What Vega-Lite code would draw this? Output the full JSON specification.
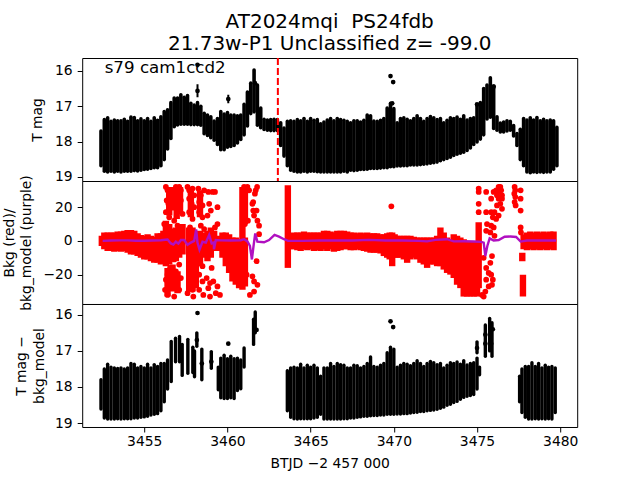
{"$schema":"https://vega.github.io/schema/vega-lite/v6.json","background":"white","padding":{"left":1.2,"top":11,"right":5,"bottom":5},"spacing":0,"bounds":"flush",
"title":{"text":["AT2024mqi\u00a0\u00a0PS24fdb","21.73w-P1 Unclassified z= -99.0"],"font":"DejaVu Sans","fontSize":20,"fontWeight":"normal","color":"black","anchor":"middle","frame":"group","offset":2,"lineHeight":23},
"datasets":{
"top":[{"x":3452.4,"a":17.7,"b":18.68},{"x":3452.6,"a":17.38,"b":18.84},{"x":3452.8,"a":17.33,"b":18.86},{"x":3453.0,"a":17.43,"b":18.84},{"x":3453.2,"a":17.39,"b":18.86},{"x":3453.4,"a":17.41,"b":18.84},{"x":3453.6,"a":17.41,"b":18.86},{"x":3453.8,"a":17.37,"b":18.84},{"x":3454.0,"a":17.43,"b":18.84},{"x":3454.2,"a":17.31,"b":18.84},{"x":3454.4,"a":17.32,"b":18.82},{"x":3454.6,"a":17.41,"b":18.83},{"x":3454.8,"a":17.36,"b":18.81},{"x":3455.0,"a":17.41,"b":18.79},{"x":3455.2,"a":17.35,"b":18.78},{"x":3455.4,"a":17.43,"b":18.76},{"x":3455.6,"a":17.33,"b":18.74},{"x":3455.8,"a":17.4,"b":18.74},{"x":3456.0,"a":17.3,"b":18.68},{"x":3456.2,"a":17.15,"b":18.51},{"x":3456.4,"a":17.1,"b":18.21},{"x":3456.6,"a":16.9,"b":17.91},{"x":3456.8,"a":16.77,"b":17.58},{"x":3457.0,"a":16.77,"b":17.53},{"x":3457.2,"a":16.68,"b":17.51},{"x":3457.4,"a":16.75,"b":17.51},{"x":3457.6,"a":16.7,"b":17.51},{"x":3457.8,"a":16.92,"b":17.52},{"x":3458.0,"a":16.97,"b":17.52},{"x":3458.2,"a":16.9,"b":17.52},{"x":3458.4,"a":17.0,"b":17.54},{"x":3458.6,"a":17.2,"b":17.78},{"x":3458.8,"a":17.25,"b":17.83},{"x":3459.0,"a":17.3,"b":17.89},{"x":3459.2,"a":17.42,"b":17.96},{"x":3459.4,"a":17.35,"b":18.08},{"x":3459.6,"a":17.15,"b":18.23},{"x":3459.8,"a":17.22,"b":18.23},{"x":3460.0,"a":17.18,"b":18.16},{"x":3460.2,"a":17.25,"b":18.14},{"x":3460.4,"a":17.25,"b":18.11},{"x":3460.6,"a":17.27,"b":18.04},{"x":3460.8,"a":17.25,"b":17.94},{"x":3461.0,"a":16.95,"b":17.81},{"x":3461.2,"a":16.6,"b":17.56},{"x":3461.4,"a":16.35,"b":17.21},{"x":3461.6,"a":15.98,"b":17.16},{"x":3461.8,"a":16.4,"b":17.54},{"x":3462.0,"a":17.05,"b":17.61},{"x":3462.2,"a":17.37,"b":17.66},{"x":3462.4,"a":17.39,"b":17.68},{"x":3462.6,"a":17.38,"b":17.69},{"x":3462.8,"a":17.37,"b":17.69},{"x":3463.0,"a":17.38,"b":17.69},{"x":3463.2,"a":17.47,"b":18.11},{"x":3463.4,"a":17.62,"b":18.41},{"x":3463.6,"a":17.43,"b":18.68},{"x":3463.8,"a":17.41,"b":18.81},{"x":3464.0,"a":17.43,"b":18.84},{"x":3464.2,"a":17.38,"b":18.86},{"x":3464.4,"a":17.41,"b":18.86},{"x":3464.6,"a":17.35,"b":18.84},{"x":3464.8,"a":17.43,"b":18.86},{"x":3465.0,"a":17.35,"b":18.84},{"x":3465.2,"a":17.4,"b":18.84},{"x":3465.4,"a":17.38,"b":18.85},{"x":3465.6,"a":17.5,"b":18.86},{"x":3465.8,"a":17.45,"b":18.86},{"x":3466.0,"a":17.39,"b":18.86},{"x":3466.2,"a":17.35,"b":18.86},{"x":3466.4,"a":17.41,"b":18.86},{"x":3466.6,"a":17.35,"b":18.86},{"x":3466.8,"a":17.38,"b":18.86},{"x":3467.0,"a":17.4,"b":18.84},{"x":3467.2,"a":17.43,"b":18.86},{"x":3467.4,"a":17.47,"b":18.81},{"x":3467.6,"a":17.41,"b":18.82},{"x":3467.8,"a":17.41,"b":18.81},{"x":3468.0,"a":17.45,"b":18.79},{"x":3468.2,"a":17.4,"b":18.79},{"x":3468.4,"a":17.25,"b":18.78},{"x":3468.6,"a":17.27,"b":18.76},{"x":3468.8,"a":17.42,"b":18.76},{"x":3469.0,"a":17.43,"b":18.76},{"x":3469.2,"a":17.4,"b":18.75},{"x":3469.4,"a":17.35,"b":18.74},{"x":3469.6,"a":17.05,"b":18.74},{"x":3469.8,"a":16.92,"b":18.71},{"x":3470.0,"a":17.07,"b":18.71},{"x":3470.2,"a":17.47,"b":18.69},{"x":3470.4,"a":17.35,"b":18.69},{"x":3470.6,"a":17.33,"b":18.68},{"x":3470.8,"a":17.37,"b":18.68},{"x":3471.0,"a":17.41,"b":18.66},{"x":3471.2,"a":17.35,"b":18.66},{"x":3471.4,"a":17.27,"b":18.66},{"x":3471.6,"a":17.35,"b":18.65},{"x":3471.8,"a":17.43,"b":18.64},{"x":3472.0,"a":17.35,"b":18.63},{"x":3472.2,"a":17.29,"b":18.61},{"x":3472.4,"a":17.33,"b":18.6},{"x":3472.6,"a":17.38,"b":18.58},{"x":3472.8,"a":17.35,"b":18.54},{"x":3473.0,"a":17.47,"b":18.51},{"x":3473.2,"a":17.4,"b":18.48},{"x":3473.4,"a":17.33,"b":18.44},{"x":3473.6,"a":17.35,"b":18.39},{"x":3473.8,"a":17.31,"b":18.36},{"x":3474.0,"a":17.37,"b":18.33},{"x":3474.2,"a":17.27,"b":18.3},{"x":3474.4,"a":17.39,"b":18.25},{"x":3474.6,"a":17.35,"b":18.18},{"x":3474.8,"a":17.33,"b":18.08},{"x":3475.0,"a":16.97,"b":18.01},{"x":3475.2,"a":16.9,"b":17.93},{"x":3475.4,"a":16.5,"b":17.81},{"x":3475.6,"a":16.4,"b":17.36},{"x":3475.8,"a":16.2,"b":17.31},{"x":3476.0,"a":16.43,"b":17.63},{"x":3476.2,"a":17.3,"b":17.68},{"x":3476.4,"a":17.48,"b":17.73},{"x":3476.6,"a":17.45,"b":17.73},{"x":3476.8,"a":17.41,"b":17.7},{"x":3477.0,"a":17.43,"b":17.68},{"x":3477.2,"a":17.55,"b":17.84},{"x":3477.4,"a":17.77,"b":18.11},{"x":3477.6,"a":17.65,"b":18.51},{"x":3477.8,"a":17.35,"b":18.68},{"x":3478.0,"a":17.39,"b":18.86},{"x":3478.2,"a":17.33,"b":18.88},{"x":3478.4,"a":17.39,"b":18.86},{"x":3478.6,"a":17.32,"b":18.87},{"x":3478.8,"a":17.41,"b":18.86},{"x":3479.0,"a":17.37,"b":18.87},{"x":3479.2,"a":17.41,"b":18.86},{"x":3479.4,"a":17.39,"b":18.86},{"x":3479.6,"a":17.41,"b":18.78},{"x":3479.8,"a":17.6,"b":18.68}],
"topPts":[{"x":3458.2,"y":15.83},{"x":3458.2,"y":16.57},{"x":3460.05,"y":16.8},{"x":3469.8,"y":16.15},{"x":3469.96,"y":16.32},{"x":3469.9,"y":16.92},{"x":3475.0,"y":16.95},{"x":3476.0,"y":16.45},{"x":3461.65,"y":16.35}],
"topErr":[{"x":3458.2,"a":15.78,"b":15.9},{"x":3458.2,"a":16.38,"b":16.75},{"x":3460.05,"a":16.68,"b":16.92}],
"label":[{"x":3452.62,"y":15.91,"t":"s79 cam1ccd2"}],
"marker":[{"x":3463.03}],
"bot":[{"x":3452.4,"a":17.8,"b":18.61},{"x":3452.6,"a":17.5,"b":18.86},{"x":3452.8,"a":17.37,"b":18.89},{"x":3453.0,"a":17.45,"b":18.89},{"x":3453.2,"a":17.47,"b":18.89},{"x":3453.4,"a":17.49,"b":18.88},{"x":3453.6,"a":17.47,"b":18.89},{"x":3453.8,"a":17.5,"b":18.88},{"x":3454.0,"a":17.47,"b":18.88},{"x":3454.2,"a":17.35,"b":18.88},{"x":3454.4,"a":17.37,"b":18.86},{"x":3454.6,"a":17.47,"b":18.86},{"x":3454.8,"a":17.43,"b":18.84},{"x":3455.0,"a":17.47,"b":18.83},{"x":3455.2,"a":17.37,"b":18.81},{"x":3455.4,"a":17.47,"b":18.78},{"x":3455.6,"a":17.38,"b":18.76},{"x":3455.8,"a":17.43,"b":18.74},{"x":3456.0,"a":17.35,"b":18.66},{"x":3456.2,"a":17.35,"b":18.41},{"x":3456.4,"a":17.25,"b":18.06},{"x":3456.62,"a":16.74,"b":17.85},{"x":3456.88,"a":16.65,"b":17.3},{"x":3457.12,"a":16.6,"b":17.3},{"x":3457.28,"a":16.82,"b":17.68},{"x":3457.62,"a":16.68,"b":17.62},{"x":3457.92,"a":16.9,"b":17.6},{"x":3458.02,"a":17.0,"b":17.72},{"x":3458.16,"a":16.5,"b":16.87},{"x":3458.46,"a":16.95,"b":17.8},{"x":3459.03,"a":17.02,"b":17.48},{"x":3459.45,"a":17.45,"b":18.08},{"x":3459.6,"a":17.2,"b":18.3},{"x":3459.8,"a":17.12,"b":18.32},{"x":3460.0,"a":17.22,"b":18.32},{"x":3460.2,"a":17.15,"b":18.3},{"x":3460.4,"a":17.22,"b":18.32},{"x":3460.6,"a":17.2,"b":18.1},{"x":3460.8,"a":17.25,"b":18.05},{"x":3461.0,"a":16.92,"b":17.45},{"x":3461.57,"a":16.12,"b":16.82},{"x":3461.67,"a":15.92,"b":16.5},{"x":3463.6,"a":17.55,"b":18.66},{"x":3463.8,"a":17.47,"b":18.84},{"x":3464.0,"a":17.45,"b":18.88},{"x":3464.2,"a":17.47,"b":18.89},{"x":3464.4,"a":17.37,"b":18.88},{"x":3464.6,"a":17.47,"b":18.88},{"x":3464.8,"a":17.4,"b":18.88},{"x":3465.0,"a":17.45,"b":18.88},{"x":3465.2,"a":17.4,"b":18.86},{"x":3465.4,"a":17.47,"b":18.84},{"x":3465.6,"a":17.7,"b":18.76},{"x":3465.8,"a":17.47,"b":18.89},{"x":3466.0,"a":17.47,"b":18.89},{"x":3466.2,"a":17.35,"b":18.89},{"x":3466.4,"a":17.43,"b":18.89},{"x":3466.6,"a":17.35,"b":18.89},{"x":3466.8,"a":17.38,"b":18.89},{"x":3467.0,"a":17.4,"b":18.88},{"x":3467.2,"a":17.47,"b":18.88},{"x":3467.4,"a":17.47,"b":18.86},{"x":3467.6,"a":17.4,"b":18.86},{"x":3467.8,"a":17.41,"b":18.84},{"x":3468.0,"a":17.47,"b":18.83},{"x":3468.2,"a":17.43,"b":18.81},{"x":3468.4,"a":17.35,"b":18.81},{"x":3468.6,"a":17.17,"b":18.8},{"x":3468.8,"a":17.43,"b":18.79},{"x":3469.0,"a":17.45,"b":18.79},{"x":3469.2,"a":17.4,"b":18.78},{"x":3469.4,"a":17.35,"b":18.78},{"x":3469.6,"a":17.05,"b":18.76},{"x":3469.8,"a":16.9,"b":18.76},{"x":3470.0,"a":16.95,"b":18.76},{"x":3470.2,"a":17.45,"b":18.75},{"x":3470.4,"a":17.4,"b":18.75},{"x":3470.6,"a":17.35,"b":18.74},{"x":3470.8,"a":17.37,"b":18.74},{"x":3471.0,"a":17.41,"b":18.72},{"x":3471.2,"a":17.35,"b":18.71},{"x":3471.4,"a":17.27,"b":18.7},{"x":3471.6,"a":17.35,"b":18.68},{"x":3471.8,"a":17.43,"b":18.68},{"x":3472.0,"a":17.35,"b":18.66},{"x":3472.2,"a":17.29,"b":18.65},{"x":3472.4,"a":17.33,"b":18.64},{"x":3472.6,"a":17.38,"b":18.62},{"x":3472.8,"a":17.35,"b":18.59},{"x":3473.0,"a":17.47,"b":18.56},{"x":3473.2,"a":17.4,"b":18.51},{"x":3473.4,"a":17.33,"b":18.48},{"x":3473.6,"a":17.35,"b":18.43},{"x":3473.8,"a":17.31,"b":18.4},{"x":3474.0,"a":17.37,"b":18.34},{"x":3474.2,"a":17.27,"b":18.29},{"x":3474.4,"a":17.39,"b":18.26},{"x":3474.6,"a":17.35,"b":18.24},{"x":3474.8,"a":17.33,"b":18.21},{"x":3475.0,"a":17.2,"b":18.06},{"x":3475.15,"a":17.45,"b":17.66},{"x":3475.0,"a":16.75,"b":17.05},{"x":3475.5,"a":16.28,"b":17.15},{"x":3475.76,"a":16.1,"b":17.0},{"x":3475.9,"a":16.22,"b":17.15},{"x":3477.56,"a":17.7,"b":18.41},{"x":3477.7,"a":17.5,"b":18.71},{"x":3477.9,"a":17.43,"b":18.84},{"x":3478.1,"a":17.43,"b":18.89},{"x":3478.3,"a":17.33,"b":18.89},{"x":3478.5,"a":17.43,"b":18.88},{"x":3478.7,"a":17.35,"b":18.89},{"x":3478.9,"a":17.47,"b":18.88},{"x":3479.1,"a":17.4,"b":18.89},{"x":3479.3,"a":17.45,"b":18.88},{"x":3479.5,"a":17.43,"b":18.89},{"x":3479.7,"a":17.47,"b":18.71}],
"botPts":[{"x":3458.2,"y":15.95},{"x":3458.16,"y":16.7},{"x":3460.05,"y":16.8},{"x":3469.8,"y":16.18},{"x":3469.96,"y":16.34},{"x":3461.75,"y":16.42},{"x":3459.03,"y":17.3},{"x":3458.46,"y":17.35},{"x":3475.0,"y":16.92},{"x":3475.5,"y":16.55},{"x":3475.95,"y":16.4},{"x":3475.85,"y":16.8},{"x":3475.5,"y":16.8}],
"band":[{"x":3452.45,"a":-3,"b":3},{"x":3452.6,"a":-5,"b":5},{"x":3452.8,"a":-6,"b":5},{"x":3453.0,"a":-6,"b":5},{"x":3453.2,"a":-6.5,"b":5},{"x":3453.4,"a":-6,"b":5.5},{"x":3453.6,"a":-6.5,"b":5.5},{"x":3453.8,"a":-6,"b":6},{"x":3454.0,"a":-7,"b":6.5},{"x":3454.2,"a":-8,"b":6.5},{"x":3454.4,"a":-8,"b":6},{"x":3454.6,"a":-9,"b":4.5},{"x":3454.8,"a":-10,"b":3.5},{"x":3455.0,"a":-11,"b":3},{"x":3455.2,"a":-11,"b":4},{"x":3455.4,"a":-12,"b":3},{"x":3455.6,"a":-13,"b":2.5},{"x":3455.8,"a":-13,"b":4.5},{"x":3456.0,"a":-14,"b":4.5},{"x":3456.15,"a":-13,"b":6},{"x":3456.3,"a":-15,"b":12},{"x":3456.5,"a":-14,"b":10},{"x":3456.7,"a":-12,"b":6},{"x":3456.9,"a":-12,"b":8},{"x":3457.1,"a":-10,"b":9},{"x":3457.3,"a":-8,"b":10},{"x":3456.5,"a":15,"b":32},{"x":3456.75,"a":18,"b":32},{"x":3456.95,"a":13,"b":32},{"x":3457.15,"a":16,"b":32},{"x":3456.4,"a":-33,"b":-16},{"x":3456.7,"a":-30,"b":-14},{"x":3457.0,"a":-31,"b":-18},{"x":3457.7,"a":-30,"b":8},{"x":3457.9,"a":-30,"b":8},{"x":3458.1,"a":-28,"b":5},{"x":3457.8,"a":14,"b":31},{"x":3458.35,"a":-15,"b":6},{"x":3458.35,"a":14,"b":30},{"x":3458.55,"a":-10,"b":5},{"x":3458.8,"a":-12,"b":6},{"x":3459.0,"a":-10,"b":8},{"x":3459.2,"a":-6,"b":6},{"x":3459.5,"a":-6,"b":3},{"x":3459.7,"a":-10,"b":5},{"x":3459.9,"a":-15,"b":5},{"x":3460.1,"a":-19,"b":4},{"x":3460.3,"a":-24,"b":2},{"x":3460.5,"a":-26,"b":2},{"x":3460.7,"a":-28,"b":1},{"x":3460.9,"a":-29,"b":32},{"x":3461.05,"a":-27,"b":2},{"x":3461.05,"a":10,"b":32},{"x":3463.63,"a":-16,"b":33},{"x":3463.8,"a":-5,"b":4},{"x":3464.0,"a":-5,"b":5},{"x":3464.2,"a":-5.5,"b":5},{"x":3464.4,"a":-6,"b":5},{"x":3464.6,"a":-5,"b":5.5},{"x":3464.8,"a":-5.5,"b":5},{"x":3465.0,"a":-5,"b":5},{"x":3465.2,"a":-6,"b":5},{"x":3465.4,"a":-5.5,"b":5},{"x":3465.6,"a":-6,"b":5},{"x":3465.8,"a":-5,"b":6},{"x":3466.0,"a":-6,"b":6},{"x":3466.2,"a":-5,"b":5.5},{"x":3466.4,"a":-6.5,"b":5},{"x":3466.6,"a":-6,"b":6},{"x":3466.8,"a":-5.5,"b":6},{"x":3467.0,"a":-5,"b":6},{"x":3467.2,"a":-5,"b":5.5},{"x":3467.4,"a":-5.5,"b":5},{"x":3467.6,"a":-5.5,"b":5},{"x":3467.8,"a":-5,"b":4.5},{"x":3468.0,"a":-5.5,"b":5},{"x":3468.2,"a":-6,"b":4.5},{"x":3468.4,"a":-6.5,"b":5},{"x":3468.6,"a":-7,"b":4.5},{"x":3468.8,"a":-7,"b":4.5},{"x":3469.0,"a":-7,"b":4.5},{"x":3469.2,"a":-7.5,"b":4},{"x":3469.4,"a":-9,"b":4},{"x":3469.6,"a":-10,"b":4.5},{"x":3469.75,"a":-11,"b":5},{"x":3469.9,"a":-15,"b":5},{"x":3470.05,"a":-10,"b":4},{"x":3470.2,"a":-10,"b":3},{"x":3470.4,"a":-10,"b":3},{"x":3470.6,"a":-11,"b":3},{"x":3470.8,"a":-13,"b":3},{"x":3471.0,"a":-11,"b":3},{"x":3471.2,"a":-10,"b":2.5},{"x":3471.4,"a":-11,"b":2},{"x":3471.6,"a":-13,"b":2},{"x":3471.8,"a":-14,"b":2},{"x":3472.0,"a":-16,"b":2},{"x":3472.2,"a":-14,"b":2},{"x":3472.4,"a":-14,"b":2},{"x":3472.6,"a":-15,"b":3},{"x":3472.8,"a":-15,"b":8},{"x":3473.0,"a":-17,"b":5},{"x":3473.2,"a":-19,"b":2},{"x":3473.4,"a":-20,"b":1},{"x":3473.6,"a":-22,"b":4},{"x":3473.8,"a":-26,"b":3},{"x":3474.0,"a":-28,"b":2},{"x":3474.2,"a":-33,"b":1},{"x":3474.4,"a":-33,"b":0},{"x":3474.6,"a":-33,"b":0},{"x":3474.8,"a":-33,"b":0},{"x":3475.0,"a":-33,"b":0},{"x":3475.1,"a":-28,"b":11},{"x":3477.76,"a":-33,"b":-20},{"x":3477.72,"a":-12,"b":-7},{"x":3477.8,"a":-5,"b":4},{"x":3478.0,"a":-5.5,"b":5},{"x":3478.2,"a":-5,"b":5.5},{"x":3478.4,"a":-5.5,"b":5},{"x":3478.6,"a":-5,"b":5.5},{"x":3478.8,"a":-5.5,"b":5},{"x":3479.0,"a":-5,"b":5.5},{"x":3479.2,"a":-5.5,"b":5},{"x":3479.4,"a":-5,"b":5.5},{"x":3479.6,"a":-5.5,"b":5.5}],
"scat":[{"x":3456.3,"y":32},{"x":3456.4,"y":30},{"x":3456.5,"y":27},{"x":3456.35,"y":24},{"x":3456.45,"y":22},{"x":3456.6,"y":20},{"x":3456.3,"y":17},{"x":3456.5,"y":14},{"x":3456.2,"y":10},{"x":3456.4,"y":8},{"x":3456.6,"y":6},{"x":3456.3,"y":-12},{"x":3456.55,"y":-16},{"x":3456.4,"y":-20},{"x":3456.3,"y":-23},{"x":3456.5,"y":-26},{"x":3456.25,"y":-29},{"x":3456.4,"y":-32},{"x":3456.9,"y":32},{"x":3457.1,"y":32},{"x":3457.2,"y":30},{"x":3456.9,"y":28},{"x":3457.0,"y":26},{"x":3457.2,"y":24},{"x":3456.85,"y":22},{"x":3457.1,"y":19},{"x":3457.3,"y":16},{"x":3456.8,"y":12},{"x":3457.0,"y":9},{"x":3457.25,"y":6},{"x":3457.0,"y":3},{"x":3457.2,"y":-3},{"x":3456.8,"y":-11},{"x":3457.1,"y":-14},{"x":3456.9,"y":-18},{"x":3457.2,"y":-22},{"x":3456.9,"y":-26},{"x":3457.1,"y":-29},{"x":3456.8,"y":-33},{"x":3457.6,"y":32},{"x":3457.7,"y":30},{"x":3457.9,"y":31},{"x":3458.0,"y":27},{"x":3457.7,"y":25},{"x":3457.85,"y":22},{"x":3458.0,"y":20},{"x":3457.7,"y":17},{"x":3457.9,"y":13},{"x":3457.75,"y":8},{"x":3457.7,"y":-10},{"x":3457.9,"y":-14},{"x":3457.7,"y":-18},{"x":3458.0,"y":-22},{"x":3457.7,"y":-26},{"x":3457.9,"y":-29},{"x":3457.6,"y":-31},{"x":3457.95,"y":-33},{"x":3457.8,"y":-20},{"x":3457.8,"y":-6},{"x":3458.25,"y":31},{"x":3458.4,"y":27},{"x":3458.6,"y":30},{"x":3458.3,"y":23},{"x":3458.5,"y":21},{"x":3458.3,"y":17},{"x":3458.5,"y":14},{"x":3458.4,"y":9},{"x":3458.6,"y":7},{"x":3458.3,"y":-10},{"x":3458.5,"y":-15},{"x":3458.3,"y":-20},{"x":3458.5,"y":-24},{"x":3458.3,"y":-29},{"x":3458.55,"y":-32},{"x":3458.3,"y":-4},{"x":3458.85,"y":29},{"x":3459.1,"y":29},{"x":3458.9,"y":22},{"x":3459.0,"y":18},{"x":3458.8,"y":15},{"x":3459.05,"y":-16},{"x":3458.75,"y":-22},{"x":3458.95,"y":-25},{"x":3459.15,"y":-24},{"x":3458.85,"y":-28},{"x":3458.95,"y":-33},{"x":3459.25,"y":29},{"x":3459.4,"y":20},{"x":3459.4,"y":10},{"x":3459.25,"y":8},{"x":3459.4,"y":-27},{"x":3459.3,"y":-31},{"x":3459.55,"y":-32},{"x":3461.0,"y":32},{"x":3461.2,"y":32},{"x":3461.3,"y":30},{"x":3461.23,"y":12},{"x":3461.05,"y":10},{"x":3461.15,"y":-20},{"x":3461.55,"y":23},{"x":3461.65,"y":28},{"x":3461.7,"y":30},{"x":3461.78,"y":32},{"x":3461.5,"y":22},{"x":3461.55,"y":18},{"x":3461.6,"y":15},{"x":3461.75,"y":18},{"x":3461.8,"y":12},{"x":3461.9,"y":9},{"x":3461.9,"y":4},{"x":3461.75,"y":-12},{"x":3461.5,"y":-21},{"x":3461.6,"y":-24},{"x":3461.8,"y":-26},{"x":3461.6,"y":-30},{"x":3461.35,"y":-32},{"x":3469.85,"y":20.5},{"x":3475.1,"y":31},{"x":3475.1,"y":29},{"x":3475.1,"y":22},{"x":3475.1,"y":17},{"x":3475.55,"y":29},{"x":3475.55,"y":17},{"x":3475.6,"y":10},{"x":3475.55,"y":6},{"x":3475.4,"y":-10},{"x":3475.55,"y":-16},{"x":3475.7,"y":-19},{"x":3475.55,"y":-23},{"x":3475.7,"y":-27},{"x":3475.5,"y":-30},{"x":3475.4,"y":-33},{"x":3475.3,"y":-32},{"x":3475.85,"y":-20},{"x":3475.95,"y":-23},{"x":3475.9,"y":-26},{"x":3475.8,"y":-13},{"x":3475.9,"y":-9},{"x":3476.4,"y":32},{"x":3476.3,"y":32},{"x":3476.15,"y":30},{"x":3476.0,"y":29},{"x":3476.3,"y":29},{"x":3476.45,"y":30},{"x":3476.2,"y":27},{"x":3476.5,"y":27},{"x":3476.3,"y":25},{"x":3476.5,"y":25},{"x":3475.85,"y":25},{"x":3476.4,"y":22},{"x":3476.2,"y":21},{"x":3476.5,"y":19},{"x":3476.05,"y":17},{"x":3475.85,"y":17},{"x":3475.95,"y":14},{"x":3476.15,"y":13},{"x":3476.3,"y":15},{"x":3475.85,"y":9},{"x":3476.0,"y":8},{"x":3475.8,"y":5},{"x":3476.05,"y":3},{"x":3477.26,"y":32},{"x":3477.3,"y":30},{"x":3477.24,"y":28},{"x":3477.3,"y":26},{"x":3477.26,"y":23},{"x":3477.32,"y":21},{"x":3477.62,"y":30},{"x":3477.62,"y":25},{"x":3477.62,"y":18},{"x":3477.62,"y":8},{"x":3477.64,"y":5}],
"purple":[{"x":3452.5,"y":0},{"x":3453.0,"y":0.2},{"x":3453.5,"y":0.3},{"x":3454.0,"y":0.3},{"x":3454.5,"y":0.1},{"x":3455.0,"y":0.1},{"x":3455.5,"y":0.2},{"x":3456.0,"y":0.4},{"x":3456.4,"y":0.8},{"x":3456.6,"y":-1.5},{"x":3456.75,"y":-2.2},{"x":3456.9,"y":-0.5},{"x":3457.05,"y":-1.6},{"x":3457.2,"y":0.5},{"x":3457.4,"y":0.5},{"x":3457.6,"y":-2.3},{"x":3457.8,"y":-1},{"x":3458.0,"y":0},{"x":3458.12,"y":6.8},{"x":3458.2,"y":-1},{"x":3458.32,"y":-5.2},{"x":3458.5,"y":-0.5},{"x":3458.7,"y":-1},{"x":3458.9,"y":3.5},{"x":3459.05,"y":-1.5},{"x":3459.18,"y":-1},{"x":3459.19,"y":-5},{"x":3459.3,"y":0.5},{"x":3459.6,"y":0.3},{"x":3460.2,"y":0.2},{"x":3460.8,"y":0.4},{"x":3461.0,"y":1},{"x":3461.2,"y":-0.3},{"x":3461.35,"y":-3},{"x":3461.47,"y":-11},{"x":3461.58,"y":-2},{"x":3461.67,"y":4.4},{"x":3461.8,"y":-0.5},{"x":3462.2,"y":-0.8},{"x":3462.5,"y":0.5},{"x":3462.83,"y":3.5},{"x":3463.1,"y":2.5},{"x":3463.4,"y":1},{"x":3463.65,"y":0},{"x":3464.5,"y":0},{"x":3465.5,"y":0.2},{"x":3466.5,"y":0.2},{"x":3467.5,"y":0.2},{"x":3468.5,"y":0.6},{"x":3469.5,"y":0.2},{"x":3470.5,"y":0.2},{"x":3471.5,"y":0},{"x":3472.0,"y":-0.3},{"x":3472.5,"y":0.6},{"x":3473.2,"y":1},{"x":3473.6,"y":-0.3},{"x":3474.2,"y":-0.2},{"x":3474.8,"y":-0.4},{"x":3475.25,"y":-0.6},{"x":3475.4,"y":-1},{"x":3475.5,"y":-9},{"x":3475.62,"y":-3},{"x":3475.76,"y":1.5},{"x":3476.0,"y":0.2},{"x":3476.3,"y":0.5},{"x":3476.66,"y":2.5},{"x":3477.0,"y":2.6},{"x":3477.35,"y":2.3},{"x":3477.62,"y":-0.4},{"x":3478.0,"y":0.2},{"x":3479.0,"y":0.2},{"x":3479.75,"y":0.2}]
},
"vconcat":[
{"width":495,"height":123,"layer":[
{"data":{"name":"top"},"mark":{"type":"rule","strokeWidth":3.6,"strokeCap":"round","color":"black","clip":true},"encoding":{"x":{"field":"x","type":"quantitative","scale":{"domain":[3451.27,3481.02],"nice":false,"zero":false},"axis":null},"y":{"field":"a","type":"quantitative","scale":{"domain":[19.114,15.639],"nice":false,"zero":false},"axis":{"title":"T mag","values":[16,17,18,19],"format":"d","titleX":-37.5}},"y2":{"field":"b"}}},
{"data":{"name":"topErr"},"mark":{"type":"rule","strokeWidth":2,"color":"black","clip":true},"encoding":{"x":{"field":"x","type":"quantitative"},"y":{"field":"a","type":"quantitative"},"y2":{"field":"b"}}},
{"data":{"name":"topPts"},"mark":{"type":"circle","size":22,"color":"black","opacity":1,"clip":true},"encoding":{"x":{"field":"x","type":"quantitative"},"y":{"field":"y","type":"quantitative"}}},
{"data":{"name":"marker"},"mark":{"type":"rule","color":"red","strokeWidth":2,"strokeDash":[7,3]},"encoding":{"x":{"field":"x","type":"quantitative"}}},
{"data":{"name":"label"},"mark":{"type":"text","align":"left","baseline":"middle","font":"DejaVu Sans","fontSize":16.7,"color":"black"},"encoding":{"x":{"field":"x","type":"quantitative"},"y":{"field":"y","type":"quantitative"},"text":{"field":"t"}}}
]},
{"width":495,"height":123,"layer":[
{"data":{"name":"band"},"mark":{"type":"rule","strokeWidth":6.4,"color":"red","clip":true},"encoding":{"x":{"field":"x","type":"quantitative","scale":{"domain":[3451.27,3481.02],"nice":false,"zero":false},"axis":null},"y":{"field":"a","type":"quantitative","scale":{"domain":[-37.4,35.5],"nice":false,"zero":false},"axis":{"title":["Bkg (red)/","bkg_model (purple)"],"values":[-20,0,20],"format":"d","titleX":-66,"titleLineHeight":17.5}},"y2":{"field":"b"}}},
{"data":{"name":"scat"},"mark":{"type":"circle","size":33,"color":"red","opacity":1,"clip":true},"encoding":{"x":{"field":"x","type":"quantitative"},"y":{"field":"y","type":"quantitative"}}},
{"data":{"name":"purple"},"mark":{"type":"line","color":"#b010c0","strokeWidth":2.4,"clip":true},"encoding":{"x":{"field":"x","type":"quantitative"},"y":{"field":"y","type":"quantitative"}}}
]},
{"width":495,"height":123,"layer":[
{"data":{"name":"bot"},"mark":{"type":"rule","strokeWidth":3.4,"strokeCap":"round","color":"black","clip":true},"encoding":{"x":{"field":"x","type":"quantitative","scale":{"domain":[3451.27,3481.02],"nice":false,"zero":false},"axis":{"title":"BTJD −2 457 000","values":[3455,3460,3465,3470,3475,3480],"format":"d","labelPadding":3,"titlePadding":8}},"y":{"field":"a","type":"quantitative","scale":{"domain":[19.11,15.7],"nice":false,"zero":false},"axis":{"title":["T mag −","bkg_model"],"values":[16,17,18,19],"format":"d","titleX":-54,"titleLineHeight":18}},"y2":{"field":"b"}}},
{"data":{"name":"botPts"},"mark":{"type":"circle","size":22,"color":"black","opacity":1,"clip":true},"encoding":{"x":{"field":"x","type":"quantitative"},"y":{"field":"y","type":"quantitative"}}}
]}
],
"config":{"view":{"stroke":"black","strokeWidth":1,"fill":"white"},"concat":{"spacing":0},"axis":{"grid":false,"domain":false,"ticks":true,"tickColor":"black","tickSize":5,"tickWidth":1,"labelColor":"black","titleColor":"black","labelFont":"DejaVu Sans","titleFont":"DejaVu Sans","labelFontSize":13.9,"titleFontSize":13.9,"titleFontWeight":"normal","labelPadding":5,"titlePadding":3,"labelOverlap":false,"labelFlush":false}}
}
